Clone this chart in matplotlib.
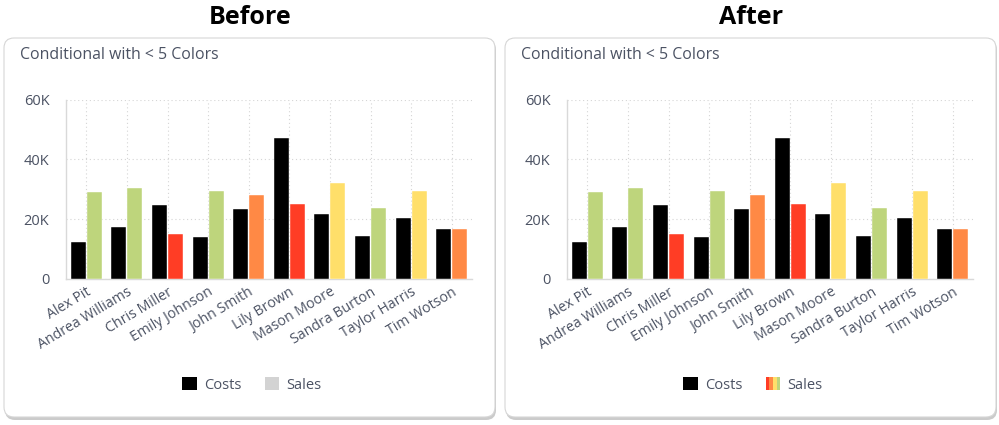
import numpy as np
import matplotlib.pyplot as plt
from matplotlib.patches import FancyBboxPatch, Patch
from matplotlib.legend_handler import HandlerTuple

plt.rcParams['font.family'] = ['Open Sans', 'DejaVu Sans']

# data (thousands)
names = ["Alex Pit", "Andrea Williams", "Chris Miller", "Emily Johnson", "John Smith",
         "Lily Brown", "Mason Moore", "Sandra Burton", "Taylor Harris", "Tim Wotson"]
costs = [12.3, 17.4, 24.7, 14.0, 23.4, 47.2, 21.6, 14.5, 20.5, 16.6]
sales = [29.0, 30.4, 15.2, 29.4, 28.0, 25.1, 32.2, 23.7, 29.4, 16.6]

red, orange, yellow, green = "#ff3d25", "#ff8945", "#ffdf6a", "#bed57c"
sales_colors = [green, green, red, green, orange, red, yellow, green, yellow, orange]
yticks = [0, 20, 40, 60]
ytick_labels = ["0", "20K", "40K", "60K"]
panel_titles = ["Before", "After"]

W, H = 999, 425
fig = plt.figure(figsize=(W / 100, H / 100), dpi=100)
fig.patch.set_facecolor("white")
txt = "#4b5263"


def inch_box(x, y, w, h, **kw):
    # pixel coords from top-left -> inches
    return FancyBboxPatch((x / 100, (H - y - h) / 100), w / 100, h / 100,
                          boxstyle="round,pad=0,rounding_size=0.1",
                          transform=fig.dpi_scale_trans, **kw)


for i, title in enumerate(panel_titles):
    ox = i * 501

    # card with shadow
    fig.add_artist(inch_box(5 + ox, 40, 491, 380, facecolor="#b5b5b5", edgecolor="none", alpha=0.7, zorder=0))
    fig.add_artist(inch_box(4 + ox, 38, 491, 379, facecolor="white", edgecolor="#d6d6d6", linewidth=0.8, zorder=1))

    fig.text((250 + ox) / W, 1 - 18 / H, title, fontsize=18, fontweight="bold", ha="center", va="center")
    fig.text((20 + ox) / W, 1 - 55 / H, "Conditional with < 5 Colors", fontsize=11.4, color=txt, va="center")

    ax = fig.add_axes([(66 + ox) / W, 1 - 279 / H, 406 / W, 179.5 / H])
    ax.set_facecolor("none")
    ax.set_zorder(2)
    x = np.arange(len(names))
    ax.bar(x - 0.195, costs, width=0.37, color="black", edgecolor="white", linewidth=0.3, zorder=3)
    ax.bar(x + 0.195, sales, width=0.37, color=sales_colors, edgecolor="white", linewidth=0.3, zorder=3)

    ax.set_xlim(-0.5, len(names) - 0.5)
    ax.set_ylim(0, 60)
    ax.set_yticks(yticks)
    ax.set_yticklabels(ytick_labels)
    ax.set_xticks(x)
    ax.set_xticklabels(names, rotation=31, ha="right", rotation_mode="anchor")
    ax.tick_params(axis="both", length=0, labelcolor=txt)
    ax.tick_params(axis="y", pad=12, labelsize=10.5)
    ax.tick_params(axis="x", pad=4, labelsize=10.2)
    ax.grid(True, color="#d5d5d5", linestyle=(0, (1, 2.5)), linewidth=0.8, zorder=0)
    for s in ["top", "right"]:
        ax.spines[s].set_visible(False)
    for s in ["left", "bottom"]:
        ax.spines[s].set_color("#d9d9d9")
        ax.spines[s].set_linewidth(1)

    cost_patch = Patch(facecolor="black")
    if i == 0:
        sales_handle = Patch(facecolor="#d3d3d3")
    else:
        sales_handle = tuple(Patch(facecolor=c) for c in [red, orange, yellow, green])
    fig.legend([cost_patch, sales_handle], ["Costs", "Sales"],
               handler_map={tuple: HandlerTuple(ndivide=None, pad=0)},
               loc="center", bbox_to_anchor=((252 + ox) / W, 1 - 385 / H), ncol=2, frameon=False,
               fontsize=10.5, labelcolor=txt, handlelength=1, handleheight=1,
               handletextpad=0.5, columnspacing=1.6)

fig.savefig("out.png", dpi=100, facecolor=fig.get_facecolor())
